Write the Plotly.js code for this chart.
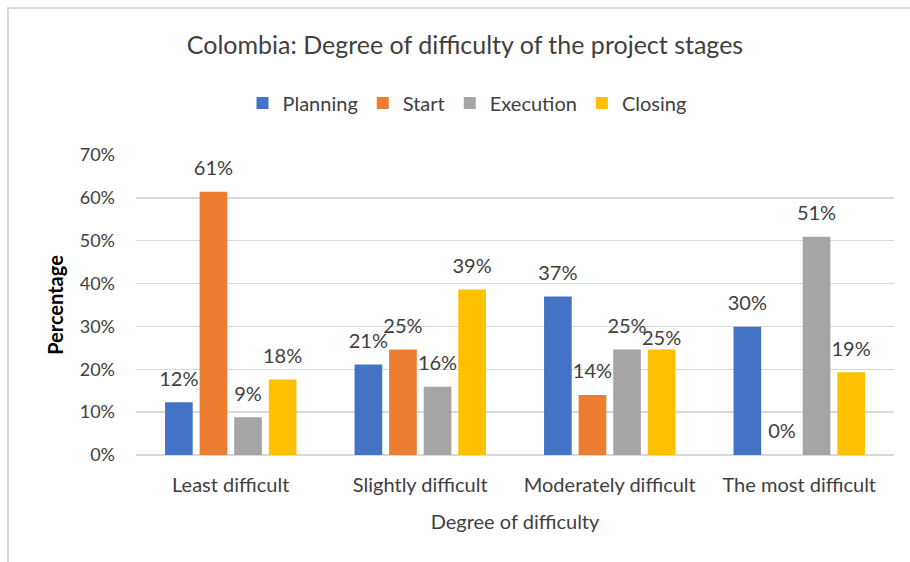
<!DOCTYPE html>
<html>
<head>
<meta charset="utf-8">
<script src="https://cdn.plot.ly/plotly-3.0.1.min.js"></script>
<style>
  body { margin: 0; background: #fff; }
  #chart { width: 910px; height: 562px; }
  #frame {
    position: absolute; left: 7px; top: 7px; width: 920px; height: 570px;
    border: 2px solid #d9d9d9; pointer-events: none;
  }
</style>
</head>
<body>
<div id="chart"></div>
<div id="frame"></div>
<script>
// Difficulty levels (x axis)
const categories = ['Least difficult', 'Slightly difficult', 'Moderately difficult', 'The most difficult'];

// Share of answers per project stage
const planning  = [0.123, 0.211, 0.370, 0.299];
const start     = [0.614, 0.246, 0.140, 0.000];
const execution = [0.088, 0.159, 0.246, 0.509];
const closing   = [0.176, 0.386, 0.246, 0.193];

const seriesNames = ['Planning', 'Start', 'Execution', 'Closing'];
const seriesColors = ['#4472c4', '#ed7d31', '#a5a5a5', '#ffc000'];

const FONT = 'Lato, "Open Sans", sans-serif';
const TEXT = '#404040';
const allSeries = [planning, start, execution, closing];

// label spacing above the bar (invisible marker size); the Closing label
// for "Moderately difficult" sits lower, as Excel nudged it there
const labelPad = [
    [17, 17, 17, 17],
    [17, 17, 17, 17],
    [17, 17, 17, 17],
    [17, 17, 0, 17]
];

const traces = allSeries.map((vals, i) => ({
    type: 'bar',
    name: seriesNames[i],
    x: categories,
    y: vals,
    offsetgroup: String(i),
    marker: { color: seriesColors[i] },
    hoverinfo: 'x+y+name'
}));

// data labels, grouped like the bars so they sit over each bar
allSeries.forEach((vals, i) => {
    traces.push({
        type: 'scatter',
        mode: 'markers+text',
        x: categories,
        y: vals,
        offsetgroup: String(i),
        showlegend: false,
        hoverinfo: 'skip',
        marker: { size: labelPad[i], color: 'rgba(0,0,0,0)', opacity: 0, line: { width: 0 } },
        text: vals.map(v => Math.round(v * 100) + '%'),
        textposition: 'top center',
        textfont: { family: FONT, size: 20, color: TEXT },
        cliponaxis: false
    });
});

const layout = {
    width: 910,
    height: 562,
    paper_bgcolor: '#fff',
    plot_bgcolor: '#fff',
    font: { family: FONT, color: TEXT },
    title: {
        text: 'Colombia: Degree of difficulty of the project stages',
        font: { family: FONT, size: 25, color: TEXT },
        x: 465 / 910,
        xref: 'container',
        xanchor: 'center',
        y: 1 - 45 / 562,
        yanchor: 'middle',
        yref: 'container'
    },
    showlegend: true,
    legend: {
        orientation: 'h',
        x: 467 / 910,
        xref: 'container',
        xanchor: 'center',
        y: 1 - 103 / 562,
        yanchor: 'middle',
        yref: 'container',
        font: { family: FONT, size: 20, color: TEXT },
        itemwidth: 30,
        traceorder: 'normal'
    },
    barmode: 'group',
    scattermode: 'group',
    bargap: 0.27,
    bargroupgap: 0.2,
    scattergap: 0.27,
    margin: { l: 136, r: 16, t: 155, b: 107 },
    xaxis: {
        type: 'category',
        tickfont: { family: FONT, size: 20, color: TEXT },
        ticks: '',
        ticklabelstandoff: 16,
        showline: false,
        title: {
            text: 'Degree of difficulty',
            font: { family: FONT, size: 20, color: TEXT },
            standoff: 19
        }
    },
    yaxis: {
        range: [0, 0.7],
        dtick: 0.1,
        tickformat: '.0%',
        tickfont: { family: FONT, size: 18, color: TEXT },
        ticklabelstandoff: 20,
        gridcolor: '#d9d9d9',
        gridwidth: 1.5,
        zeroline: true,
        zerolinecolor: '#d9d9d9',
        zerolinewidth: 1.5,
        ticks: '',
        title: {
            text: '<b>Percentage</b>',
            font: { family: FONT, size: 20, color: '#000' },
            standoff: 10
        }
    }
};

Plotly.newPlot('chart', traces, layout, { displayModeBar: false, staticPlot: true });
</script>
</body>
</html>
